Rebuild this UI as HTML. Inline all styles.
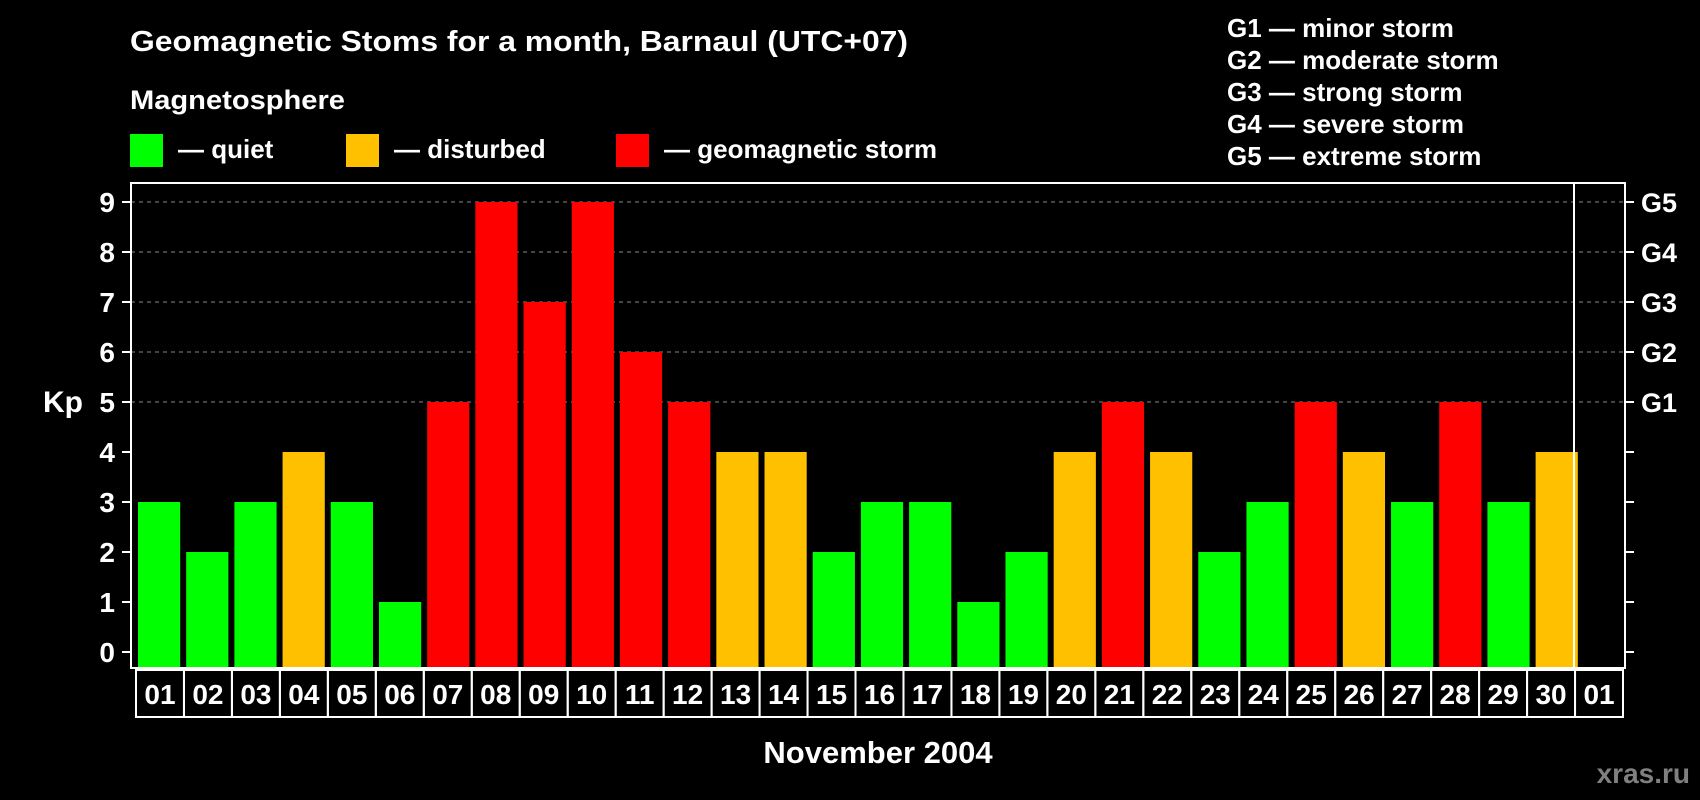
<!DOCTYPE html>
<html><head><meta charset="utf-8"><style>
html,body{margin:0;padding:0;background:#000;}
svg{display:block;font-family:"Liberation Sans",Arial,sans-serif;font-weight:bold;}
</style></head><body>
<svg id="chart" width="1700" height="800" viewBox="0 0 1700 800" xmlns="http://www.w3.org/2000/svg">
<rect width="1700" height="800" fill="#000"/>
<text x="130" y="51" fill="#fff" font-size="29" textLength="778" lengthAdjust="spacingAndGlyphs">Geomagnetic Stoms for a month, Barnaul (UTC+07)</text>
<text x="130" y="109" fill="#fff" font-size="27" textLength="215" lengthAdjust="spacingAndGlyphs">Magnetosphere</text>
<g><rect x="130" y="134" width="33" height="33" fill="#00ff00"/><text x="178" y="158" fill="#fff" font-size="26">— quiet</text></g>
<g><rect x="346" y="134" width="33" height="33" fill="#ffc000"/><text x="394" y="158" fill="#fff" font-size="26">— disturbed</text></g>
<g><rect x="616" y="134" width="33" height="33" fill="#ff0000"/><text x="664" y="158" fill="#fff" font-size="26">— geomagnetic storm</text></g>
<g fill="#fff" font-size="26">
<text x="1227" y="37">G1 — minor storm</text>
<text x="1227" y="69">G2 — moderate storm</text>
<text x="1227" y="101">G3 — strong storm</text>
<text x="1227" y="133">G4 — severe storm</text>
<text x="1227" y="165">G5 — extreme storm</text>
</g>
<text x="43" y="412" fill="#fff" font-size="30">Kp</text>
<text x="878" y="763" fill="#fff" font-size="31" text-anchor="middle">November 2004</text>
<text x="1690" y="783" fill="#808080" font-size="28" text-anchor="end">xras.ru</text>
<g id="grid"></g><g id="bars"></g><g id="axes"></g>
</svg>
<script>
const days = ["01","02","03","04","05","06","07","08","09","10","11","12","13","14","15","16","17","18","19","20","21","22","23","24","25","26","27","28","29","30","01"];
const kp = [3,2,3,4,3,1,5,9,7,9,6,5,4,4,2,3,3,1,2,4,5,4,2,3,5,4,3,5,3,4];
const yTicks = [0,1,2,3,4,5,6,7,8,9];
const gLabels = ["","","","","","G1","G2","G3","G4","G5"];
const NS="http://www.w3.org/2000/svg";
const L=131,R=1625,T=183,B=668,slot=(R-L)/days.length;
const y=v=>652-v*(652-202)/9;
const x=i=>L+i*slot;
function mk(tag,attrs,parent){const e=document.createElementNS(NS,tag);for(const k in attrs)e.setAttribute(k,attrs[k]);parent.appendChild(e);return e;}
const grid=document.getElementById('grid'),bars=document.getElementById('bars'),axes=document.getElementById('axes');
yTicks.forEach((t,i)=>{
  if(t>=5){const g=mk('line',{x1:L,x2:R,y1:y(t),y2:y(t),stroke:'#888','stroke-dasharray':'4 4','stroke-width':1},grid);
  
  }
  const tl=mk('line',{x1:122,x2:L,y1:y(t),y2:y(t),stroke:'#fff','stroke-width':2},axes);
  
  
  const tr=mk('line',{x1:R,x2:R+9,y1:y(t),y2:y(t),stroke:'#fff','stroke-width':2},axes);
  
  
  const lb=mk('text',{x:115,y:y(t)+10,fill:'#fff','font-size':28,'text-anchor':'end'},axes);lb.textContent=t;
  
  
  if(gLabels[i]){const gl=mk('text',{x:1641,y:y(t)+10,fill:'#fff','font-size':27},axes);gl.textContent=gLabels[i];
  
  }
});
kp.forEach((v,i)=>{
  const c=v>=5?'#ff0000':(v>=4?'#ffc000':'#00ff00');
  const r=mk('rect',{x:x(i)+7,width:slot-6,y:y(v),height:B-y(v),fill:c},bars);
  
  
});
const fr=mk('rect',{x:L,y:T,width:R-L,height:B-T,fill:'none',stroke:'#fff','stroke-width':2},axes);


const vl=mk('line',{x1:1574,x2:1574,y1:T,y2:B,stroke:'#fff','stroke-width':2},axes);


const cw=(1623-136)/days.length;
days.forEach((d,i)=>{
  const b=mk('rect',{x:136+i*cw,y:670,width:cw,height:47,fill:'none',stroke:'#fff','stroke-width':2},axes);
  
  
  const t=mk('text',{x:136+i*cw+cw/2,y:704,fill:'#fff','font-size':28,'text-anchor':'middle'},axes);t.textContent=d;
  
  
});
</script>
</body></html>
